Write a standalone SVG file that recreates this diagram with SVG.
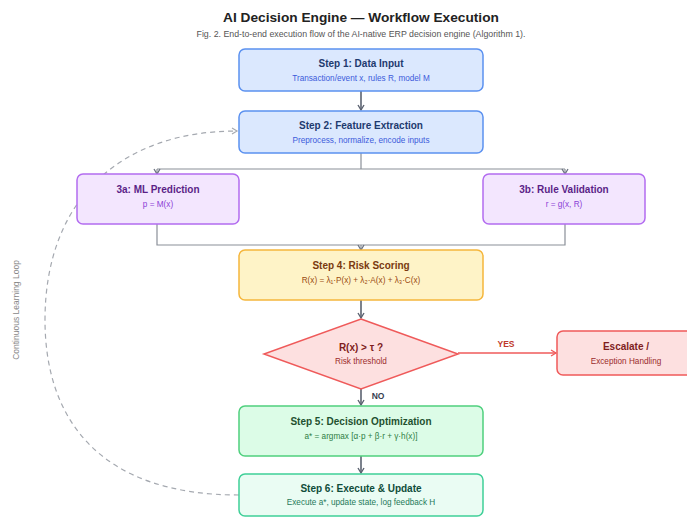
<svg xmlns="http://www.w3.org/2000/svg" width="687" height="517" viewBox="0 0 687 517">
<style>
text{font-family:"Liberation Sans",Arial,sans-serif;text-anchor:middle}
.t{font-weight:bold;font-size:10px}
.s{font-size:8.2px}
.arr{stroke:#5b6270;stroke-width:1.6;fill:none;marker-end:url(#ah)}
.br{stroke:#8a8f98;stroke-width:1.2;fill:none}
.bra{stroke:#8a8f98;stroke-width:1.2;fill:none;marker-end:url(#ahs)}
</style>
<defs>
<marker id="ah" markerWidth="8" markerHeight="8" refX="6" refY="4" orient="auto" markerUnits="userSpaceOnUse">
<path d="M1,1 L6,4 L1,7" fill="none" stroke="#5b6270" stroke-width="1.4"/>
</marker>
<marker id="ahs" markerWidth="8" markerHeight="8" refX="6" refY="4" orient="auto" markerUnits="userSpaceOnUse">
<path d="M1,1 L6,4 L1,7" fill="none" stroke="#6b7280" stroke-width="1.3"/>
</marker>
<marker id="ahr" markerWidth="8" markerHeight="8" refX="6" refY="4" orient="auto" markerUnits="userSpaceOnUse">
<path d="M1,1 L6,4 L1,7" fill="none" stroke="#ef5a5a" stroke-width="1.3"/>
</marker>
<marker id="ahd" markerWidth="8" markerHeight="8" refX="6" refY="4" orient="auto" markerUnits="userSpaceOnUse">
<path d="M1,1 L6,4 L1,7" fill="none" stroke="#a5a9b0" stroke-width="1.2"/>
</marker>
</defs>
<rect width="687" height="517" fill="#ffffff"/>
<text x="361" y="22" style="font-weight:bold;font-size:13.7px" fill="#222">AI Decision Engine — Workflow Execution</text>
<text x="361" y="37" style="font-size:8.8px" fill="#555">Fig. 2. End-to-end execution flow of the AI-native ERP decision engine (Algorithm 1).</text>

<g id="connectors">
<line class="arr" x1="361" y1="91" x2="361" y2="110"/>
<polyline class="br" points="361,153 361,169"/>
<polyline class="br" points="157,169 565,169"/>
<line class="bra" x1="157" y1="169" x2="157" y2="174"/>
<line class="bra" x1="565" y1="169" x2="565" y2="174"/>
<polyline class="br" points="157,224 157,245 565,245 565,224"/>
<line class="bra" x1="361" y1="245" x2="361" y2="250"/>
<line class="arr" x1="361" y1="300" x2="361" y2="318"/>
<line x1="458" y1="353" x2="556" y2="353" stroke="#ef5a5a" stroke-width="1.3" marker-end="url(#ahr)"/>
<text x="506" y="347" style="font-weight:bold;font-size:8.5px" fill="#c0392b">YES</text>
<line class="arr" x1="361" y1="389" x2="361" y2="405"/>
<text x="378" y="399" style="font-weight:bold;font-size:8.5px" fill="#374151">NO</text>
<line class="arr" x1="361" y1="456" x2="361" y2="473"/>
<path d="M239,495 C100,495 45,420 45,320 C45,200 120,131 237,131" fill="none" stroke="#a5a9b0" stroke-width="1.2" stroke-dasharray="5,4" marker-end="url(#ahd)"/>
<text transform="translate(19,310) rotate(-90)" style="font-size:8.5px" fill="#888">Continuous Learning Loop</text>
</g>

<g id="step1">
<rect x="239" y="49" width="244" height="42" rx="6" fill="#dbe8fe" stroke="#5b91f0" stroke-width="1.5"/>
<text class="t" x="361" y="67" fill="#1e3a6e">Step 1: Data Input</text>
<text class="s" x="361" y="81" fill="#3b5bdb">Transaction/event x, rules R, model M</text>
</g>
<g id="step2">
<rect x="239" y="111" width="244" height="42" rx="6" fill="#dbe8fe" stroke="#5b91f0" stroke-width="1.5"/>
<text class="t" x="361" y="129" fill="#1e3a6e">Step 2: Feature Extraction</text>
<text class="s" x="361" y="143" fill="#3b5bdb">Preprocess, normalize, encode inputs</text>
</g>
<g id="step3a">
<rect x="77" y="174" width="162" height="50" rx="6" fill="#f3e6fe" stroke="#b36cf0" stroke-width="1.5"/>
<text class="t" x="158" y="193" fill="#5b1f87">3a: ML Prediction</text>
<text class="s" x="158" y="207" fill="#8b3fd6">p = M(x)</text>
</g>
<g id="step3b">
<rect x="483" y="174" width="162" height="50" rx="6" fill="#f3e6fe" stroke="#b36cf0" stroke-width="1.5"/>
<text class="t" x="564" y="193" fill="#5b1f87">3b: Rule Validation</text>
<text class="s" x="564" y="207" fill="#8b3fd6">r = g(x, R)</text>
</g>
<g id="step4">
<rect x="239" y="250" width="244" height="50" rx="6" fill="#fef3c7" stroke="#f5b63c" stroke-width="1.5"/>
<text class="t" x="361" y="269" fill="#7a3a10">Step 4: Risk Scoring</text>
<text class="s" x="361" y="283" fill="#9a4a10">R(x) = λ₁·P(x) + λ₂·A(x) + λ₃·C(x)</text>
</g>
<g id="decision">
<polygon points="361,319 458,354 361,389 264,354" fill="#fde0e0" stroke="#ef5a5a" stroke-width="1.5"/>
<text class="t" x="361" y="351" fill="#7f1d1d">R(x) &gt; τ ?</text>
<text class="s" x="361" y="364" fill="#9b2c2c">Risk threshold</text>
</g>
<g id="escalate">
<rect x="557" y="331" width="138" height="44" rx="6" fill="#fde0e0" stroke="#ef5a5a" stroke-width="1.5"/>
<text class="t" x="626" y="350" fill="#7f1d1d">Escalate /</text>
<text class="s" x="626" y="364" fill="#9b2c2c">Exception Handling</text>
</g>
<g id="step5">
<rect x="239" y="406" width="244" height="50" rx="6" fill="#dcfce7" stroke="#4fd07e" stroke-width="1.5"/>
<text class="t" x="361" y="425" fill="#1f5130">Step 5: Decision Optimization</text>
<text class="s" x="361" y="439" fill="#2f7d45">a* = argmax [α·p + β·r + γ·h(x)]</text>
</g>
<g id="step6">
<rect x="239" y="474" width="244" height="42" rx="6" fill="#eafcf3" stroke="#3fcf98" stroke-width="1.5"/>
<text class="t" x="361" y="492" fill="#0f4d3a">Step 6: Execute &amp; Update</text>
<text class="s" x="361" y="505" fill="#1f7a5a">Execute a*, update state, log feedback H</text>
</g>
</svg>
